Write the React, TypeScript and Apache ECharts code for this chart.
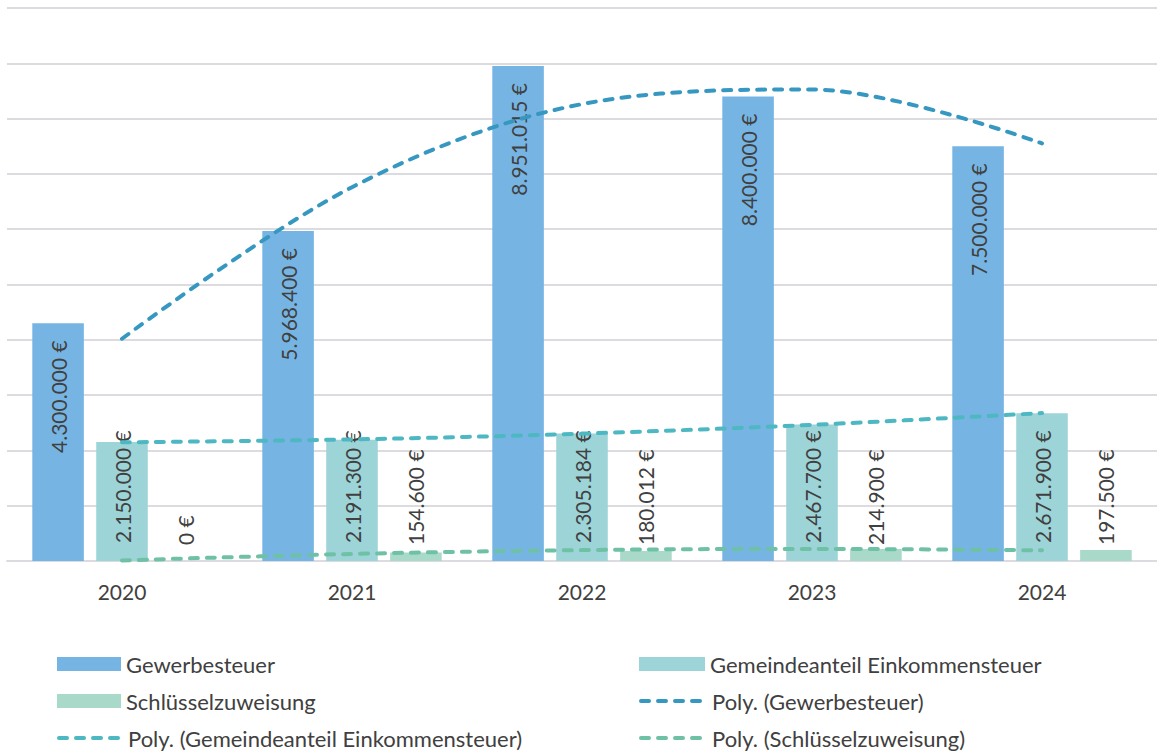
import React, { useEffect, useRef } from "react";
import * as echarts from "echarts";

const categories = ["2020", "2021", "2022", "2023", "2024"];
const gewerbesteuer = [4300000, 5968400, 8951015, 8400000, 7500000];
const gemeindeanteil = [2150000, 2191300, 2305184, 2467700, 2671900];
const schluesselzuweisung = [0, 154600, 180012, 214900, 197500];

const NAME_G = "Gewerbesteuer";
const NAME_E = "Gemeindeanteil Einkommensteuer";
const NAME_S = "Schlüsselzuweisung";
const NAME_PG = "Poly. (Gewerbesteuer)";
const NAME_PE = "Poly. (Gemeindeanteil Einkommensteuer)";
const NAME_PS = "Poly. (Schlüsselzuweisung)";

// Quadratic least-squares trend (like Excel's "Poly." order 2), evaluated at each category
function polyTrend(ys: number[]): number[] {
  const xs = ys.map((_, i) => i + 1);
  const S = (f: (x: number, y: number) => number) =>
    xs.reduce((acc, x, i) => acc + f(x, ys[i]), 0);
  const n = xs.length;
  const s1 = S((x) => x), s2 = S((x) => x * x), s3 = S((x) => x ** 3), s4 = S((x) => x ** 4);
  const t0 = S((_, y) => y), t1 = S((x, y) => x * y), t2 = S((x, y) => x * x * y);
  const M = [
    [n, s1, s2, t0],
    [s1, s2, s3, t1],
    [s2, s3, s4, t2],
  ];
  for (let i = 0; i < 3; i++) {
    let p = i;
    for (let r = i + 1; r < 3; r++) if (Math.abs(M[r][i]) > Math.abs(M[p][i])) p = r;
    [M[i], M[p]] = [M[p], M[i]];
    for (let r = 0; r < 3; r++) {
      if (r === i) continue;
      const f = M[r][i] / M[i][i];
      for (let c = i; c < 4; c++) M[r][c] -= f * M[i][c];
    }
  }
  const a = M[0][3] / M[0][0], b = M[1][3] / M[1][1], c = M[2][3] / M[2][2];
  return xs.map((x) => a + b * x + c * x * x);
}

const fmt = (v: number) =>
  Math.round(v).toString().replace(/\B(?=(\d{3})+(?!\d))/g, ".") + " €";

const FONT = "Lato";
const TEXT = "#404040";
const GRID = "#DCDCE0";
const C_G = "#76B5E3";
const C_E = "#9DD4D8";
const C_S = "#A9D9C9";
const C_PG = "#3698C1";
const C_PE = "#4DB7C2";
const C_PS = "#6FC1A5";

export default function App() {
  const ref = useRef<HTMLDivElement>(null);
  useEffect(() => {
    document.body.style.margin = "0";
    const chart = echarts.init(ref.current!, undefined, { renderer: "svg" });
    const labelBase = {
      show: true,
      rotate: 90,
      fontSize: 21,
      fontFamily: FONT,
      color: TEXT,
      verticalAlign: "middle",
      formatter: (p: any) => fmt(p.value),
    };
    const dash = { type: [8, 9], width: 4, cap: "round" };
    const legendText = { fontSize: 22, color: TEXT, fontFamily: FONT, lineHeight: 24 };
    const mkLegend = (left: number, top: number, item: any, w: number) => ({
      left,
      top,
      padding: 0,
      orient: "horizontal",
      itemWidth: w,
      itemHeight: 14,
      textStyle: legendText,
      data: [item],
    });
    const lineItem = (name: string, color: string) => ({
      name,
      itemStyle: { color: "rgba(0,0,0,0)", borderWidth: 0, opacity: 0 },
      lineStyle: { color, width: 4, type: [8, 9], cap: "round" },
    });
    chart.setOption({
      animation: false,
      textStyle: { fontFamily: FONT },
      grid: { left: 7, right: 0, top: 8, bottom: 192, containLabel: false },
      xAxis: {
        type: "category",
        data: categories,
        axisLine: { lineStyle: { color: GRID, width: 2 } },
        axisTick: { show: false },
        axisLabel: { fontSize: 21, color: TEXT, fontFamily: FONT, margin: 20 },
      },
      yAxis: {
        type: "value",
        min: 0,
        max: 10000000,
        interval: 1000000,
        axisLabel: { show: false },
        axisLine: { show: false },
        axisTick: { show: false },
        splitLine: { lineStyle: { color: GRID, width: 2 } },
      },
      legend: [
        mkLegend(57, 652, { name: NAME_G, icon: "rect" }, 64),
        mkLegend(639, 652, { name: NAME_E, icon: "rect" }, 66),
        mkLegend(57, 689, { name: NAME_S, icon: "rect" }, 64),
        mkLegend(639, 689, lineItem(NAME_PG, C_PG), 66),
        mkLegend(57, 726, lineItem(NAME_PE, C_PE), 64),
        mkLegend(639, 726, lineItem(NAME_PS, C_PS), 66),
      ],
      series: [
        {
          name: NAME_G,
          type: "bar",
          data: gewerbesteuer,
          barCategoryGap: "22%",
          barGap: "24%",
          itemStyle: { color: C_G },
          label: { ...labelBase, position: "insideTop", align: "right", distance: 17 },
        },
        {
          name: NAME_E,
          type: "bar",
          data: gemeindeanteil,
          itemStyle: { color: C_E },
          label: { ...labelBase, position: "insideBottom", align: "left", distance: 18 },
        },
        {
          name: NAME_S,
          type: "bar",
          data: schluesselzuweisung,
          itemStyle: { color: C_S },
          label: { ...labelBase, position: "insideBottom", align: "left", distance: 16 },
        },
        {
          name: NAME_PG,
          type: "line",
          data: polyTrend(gewerbesteuer),
          smooth: 0.34,
          symbol: "none",
          lineStyle: { ...dash, color: C_PG },
          itemStyle: { color: C_PG },
          z: 5,
        },
        {
          name: NAME_PE,
          type: "line",
          data: polyTrend(gemeindeanteil),
          smooth: 0.34,
          symbol: "none",
          lineStyle: { ...dash, color: C_PE },
          itemStyle: { color: C_PE },
          z: 5,
        },
        {
          name: NAME_PS,
          type: "line",
          data: polyTrend(schluesselzuweisung),
          smooth: 0.34,
          symbol: "none",
          lineStyle: { ...dash, color: C_PS },
          itemStyle: { color: C_PS },
          z: 5,
        },
      ],
    });
    return () => chart.dispose();
  }, []);
  return <div ref={ref} style={{ width: 1157, height: 753 }} />;
}
